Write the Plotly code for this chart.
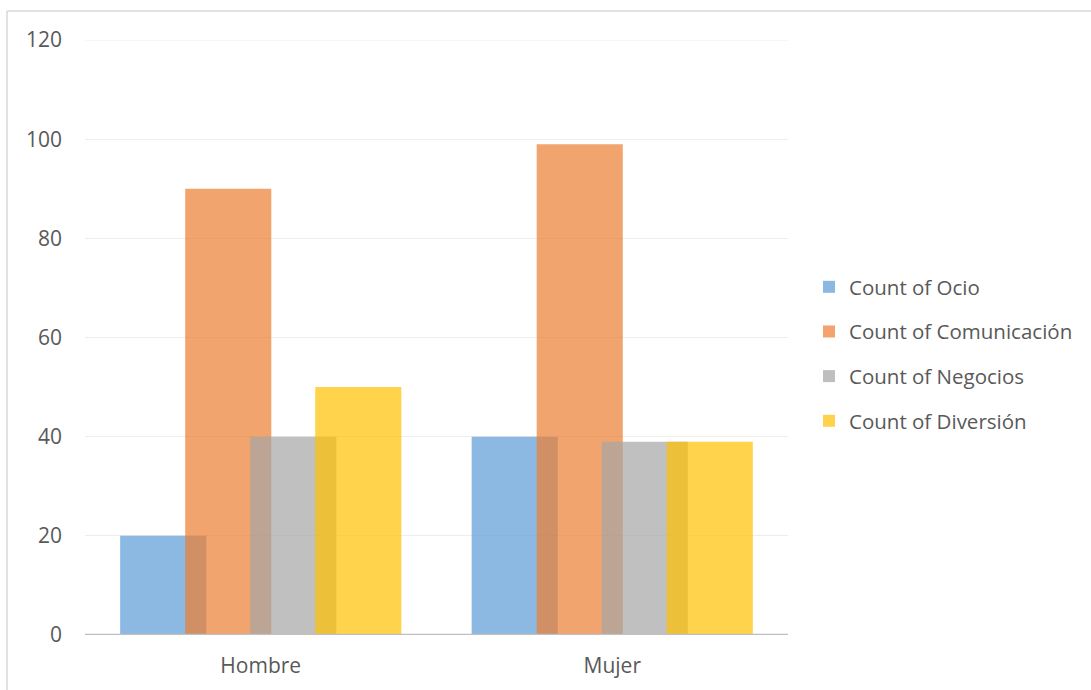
import plotly.graph_objects as go

categories = ["Hombre", "Mujer"]
series_names = ["Count of Ocio", "Count of Comunicación", "Count of Negocios", "Count of Diversión"]
ocio = [20, 40]
comunicacion = [90, 99]
negocios = [40, 39]
diversion = [50, 39]
values = [ocio, comunicacion, negocios, diversion]
colors = ["#5B9BD5", "#ED7D31", "#A5A5A5", "#FFC000"]
y_ticks = [0, 20, 40, 60, 80, 100, 120]

bar_w = 0.245
offsets = [-0.40, -0.215, -0.03, 0.155]

fig = go.Figure()
for name, vals, col, off in zip(series_names, values, colors, offsets):
    fig.add_trace(go.Bar(
        x=categories, y=vals, name=name,
        marker=dict(color=col, line=dict(width=0)),
        opacity=0.7, width=bar_w, offset=off,
        legendgroup=name,
    ))

W, H = 1091, 690
L, R, T, B = 85, 303, 40, 55
pw, ph = W - L - R, H - T - B

def px_x(p):
    return (p - L) / pw

def px_y(p):
    return (H - B - p) / ph

fig.update_layout(
    width=W, height=H,
    margin=dict(l=L, r=R, t=T, b=B, pad=0),
    barmode="overlay",
    paper_bgcolor="white", plot_bgcolor="white",
    font=dict(family="Open Sans", color="#595959", size=21),
    xaxis=dict(
        type="category", showgrid=False, showline=False, ticks="",
        tickfont=dict(family="Open Sans", size=21, color="#595959"),
        range=[-0.5, 1.5], ticklabelstandoff=16,
    ),
    yaxis=dict(
        range=[0, 120], tickvals=y_ticks, showgrid=True, gridcolor="#EDEDED", gridwidth=1,
        zeroline=False, showline=False, ticks="",
        tickfont=dict(family="Open Sans", size=21, color="#595959"),
        ticklabelstandoff=22,
    ),
    legend=dict(
        x=px_x(809), y=px_y(354), xanchor="left", yanchor="middle",
        font=dict(family="Open Sans", size=20.5, color="#595959"),
        tracegroupgap=15, itemwidth=30,
        bgcolor="rgba(0,0,0,0)",
    ),
    showlegend=True,
    shapes=[
        # top gridline at 120
        dict(type="line", xref="paper", yref="y", x0=0, x1=1, y0=120, y1=120,
             line=dict(color="#EDEDED", width=1), layer="below"),
        # baseline axis
        dict(type="line", xref="paper", yref="y", x0=0, x1=1, y0=0, y1=0,
             line=dict(color="#BFBFBF", width=2.5), layer="above"),
        # outer border (top and left)
        dict(type="line", xref="paper", yref="paper", x0=px_x(7), x1=px_x(1095), y0=px_y(11), y1=px_y(11),
             line=dict(color="#D9D9D9", width=1.5)),
        dict(type="line", xref="paper", yref="paper", x0=px_x(7), x1=px_x(7), y0=px_y(11), y1=px_y(695),
             line=dict(color="#D9D9D9", width=1.5)),
    ],
)

fig.write_html("out.html")
